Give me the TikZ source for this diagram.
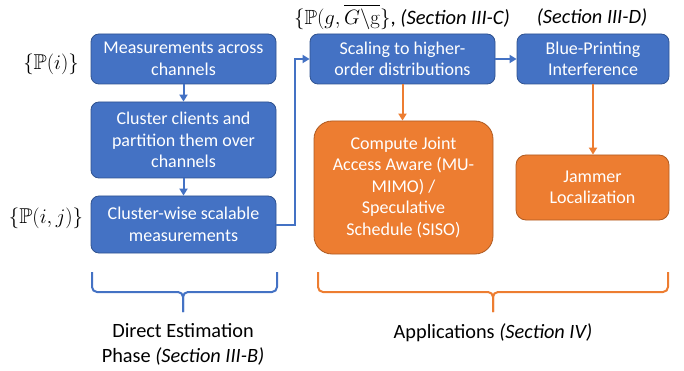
\documentclass[tikz,border=0pt]{standalone}
\usepackage{amssymb}
\usepackage[no-math]{fontspec}
\setmainfont{Carlito}
\usetikzlibrary{arrows.meta,calc}
\definecolor{oblue}{HTML}{4472C4}
\definecolor{oblueb}{HTML}{2F528F}
\definecolor{oorange}{HTML}{ED7D31}
\definecolor{oorangeb}{HTML}{AE5A21}
\tikzset{
  bluebox/.style={draw=oblueb, line width=0.8pt, fill=oblue, rounded corners=8pt, text=white, align=center, inner sep=0pt,
    font=\fontsize{18}{21.5}\selectfont},
  orangebox/.style={draw=oorangeb, line width=0.8pt, fill=oorange, text=white, align=center, inner sep=0pt,
    font=\fontsize{18}{21.5}\selectfont},
  bluearrow/.style={draw=oblue, line width=2pt, -{Triangle[length=7pt,width=8pt]}},
  orangearrow/.style={draw=oorange, line width=2pt, -{Triangle[length=7pt,width=8pt]}},
  bluebrace/.style={draw=oblue, line width=2pt, rounded corners=5pt},
  orangebrace/.style={draw=oorange, line width=2pt, rounded corners=5pt},
  lbl/.style={inner sep=0pt, align=center, font=\fontsize{20.3}{25}\selectfont},
  mlbl/.style={inner sep=0pt, align=center, font=\fontsize{21.5}{25}\selectfont},
}
\begin{document}
\begin{tikzpicture}[x=1pt,y=-1pt]
\useasboundingbox (0,0) rectangle (684,371);
% blue chain
\node[bluebox, minimum width=185pt, minimum height=50pt] (b1) at (183.5,59) {Measurements across\\channels};
\node[bluebox, minimum width=185pt, minimum height=76pt] (b2) at (183.5,140) {Cluster clients and\\partition them over\\channels};
\node[bluebox, minimum width=185pt, minimum height=57pt] (b3) at (183.5,224.5) {Cluster-wise scalable\\measurements};
\node[bluebox, minimum width=185pt, minimum height=50pt] (b4) at (402.5,59) {Scaling to higher-\\order distributions};
\node[bluebox, minimum width=152pt, minimum height=50pt] (b5) at (593,59) {Blue-Printing\\Interference};
% orange boxes
\node[orangebox, rounded corners=18pt, minimum width=179pt, minimum height=133pt] (o1) at (403.5,187.5) {Compute Joint\\Access Aware (MU-\\MIMO) /\\Speculative\\Schedule (SISO)};
\node[orangebox, rounded corners=10pt, minimum width=153pt, minimum height=65pt] (o2) at (592.5,187.5) {Jammer\\Localization};
% side labels
\node[mlbl] (l1) at (51,64) {$\{\mathbb{P}(i)\}$};
\node[mlbl] (l2) at (46,218) {$\{\mathbb{P}(i,j)\}$};
\node[lbl, anchor=west] (l3) at (294,17) {\fontsize{20.5}{25}\selectfont$\{\mathbb{P}(g,\overline{G\backslash\mathrm{g}}\}$, \textit{(Section III-C)}};
\node[lbl] (l4) at (592,17) {\textit{(Section III-D)}};
% connectors
\draw[bluearrow] (b1.south) -- (b2.north);
\draw[bluearrow] (b2.south) -- (b3.north);
\draw[bluearrow] (b3.east) -- ++(19,0) |- (b4.west);
\draw[bluearrow] (b4.east) -- (b5.west);
\draw[orangearrow] (b4.south) -- (b4.south |- o1.north);
\draw[orangearrow] (b5.south) -- (b5.south |- o2.north);
% braces
\coordinate (bl) at (92,272);
\coordinate (br) at (277,272);
\coordinate (bt) at (183,312);
\draw[bluebrace] (bl) -- (92,292) -- (183,292) -- (bt);
\draw[bluebrace] (br) -- (277,292) -- (183,292) -- (bt);
\coordinate (ol) at (318,272);
\coordinate (or) at (668,272);
\coordinate (ot) at (493,312);
\draw[orangebrace] (ol) -- (318,292) -- (493,292) -- (ot);
\draw[orangebrace] (or) -- (668,292) -- (493,292) -- (ot);
% bottom labels
\node[lbl] (d1) at (183,344.5) {Direct Estimation\\Phase \textit{(Section III-B)}};
\node[lbl] (d2) at (493,333) {Applications \textit{(Section IV)}};
\end{tikzpicture}
\end{document}
